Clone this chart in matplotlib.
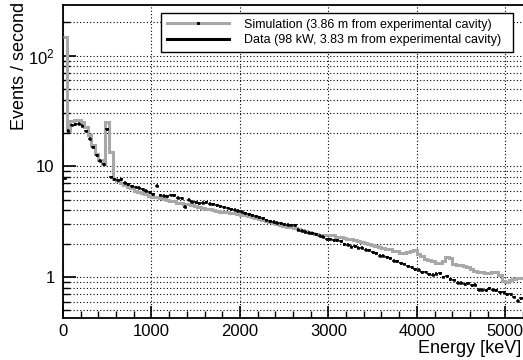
import numpy as np
import matplotlib
matplotlib.use("Agg")
import matplotlib.pyplot as plt
from matplotlib.lines import Line2D
from matplotlib.ticker import FixedLocator, FixedFormatter, MultipleLocator, NullFormatter

plt.rcParams['font.family'] = ['Liberation Sans', 'DejaVu Sans']
plt.rcParams['mathtext.fontset'] = 'custom'
plt.rcParams['mathtext.rm'] = 'Liberation Sans'
plt.rcParams['mathtext.it'] = 'Liberation Sans'

# ---------------- data (40 keV bins from 0 to 5200 keV) ----------------
bin_width = 40  # keV

data_rate = [
    7.8, 21, 23.6, 24, 24.3, 23.2, 20.8, 17.8, 14.8, 12.6,
    11.2, 10.4, 21.6, 8.0, 7.6, 7.5, 7.6, 7.1, 6.9, 6.6,
    6.5, 6.4, 6.2, 6.0, 5.8, 5.6, 6.7, 5.5, 5.4, 5.35,
    5.5, 5.45, 5.2, 5.15, 4.3, 5.0, 4.8, 4.75, 4.65, 4.7,
    4.75, 4.6, 4.55, 4.45, 4.35, 4.25, 4.2, 4.1, 4.05, 3.95,
    3.9, 3.75, 3.7, 3.62, 3.55, 3.45, 3.38, 3.27, 3.2, 3.15,
    3.08, 3.05, 3.0, 2.97, 2.95, 2.92, 2.68, 2.62, 2.56, 2.52,
    2.48, 2.42, 2.36, 2.3, 2.2, 2.18, 2.14, 2.15, 2.1, 1.98,
    1.95, 1.88, 1.90, 1.83, 1.84, 1.76, 1.75, 1.67, 1.64, 1.56,
    1.55, 1.50, 1.47, 1.40, 1.39, 1.33, 1.31, 1.25, 1.22, 1.17,
    1.16, 1.10, 1.11, 1.06, 1.05, 1.07, 1.08, 1.00, 1.01, 0.95,
    0.94, 0.89, 0.89, 0.86, 0.88, 0.84, 0.85, 0.77, 0.77, 0.76,
    0.79, 0.77, 0.76, 0.73, 0.73, 0.70, 0.70, 0.66, 0.61, 0.64,
]

sim_rate = [
    148, 21, 25.5, 26.2, 26, 25, 22.5, 19, 15.5, 13,
    11.3, 10.4, 25, 13.5, 7.6, 7.3, 7.1, 6.8, 6.5, 6.3,
    6.0, 5.9, 5.75, 5.6, 5.4, 5.3, 5.25, 5.2, 5.05, 5.0,
    4.9, 4.85, 4.7, 4.65, 4.6, 4.55, 4.45, 4.35, 4.3, 4.2,
    4.15, 4.1, 4.05, 3.95, 3.9, 3.85, 3.85, 3.8, 3.75, 3.7,
    3.65, 3.6, 3.55, 3.48, 3.42, 3.35, 3.28, 3.2, 3.12, 3.05,
    3.0, 2.95, 2.9, 2.85, 2.82, 2.78, 2.7, 2.65, 2.6, 2.55,
    2.5, 2.45, 2.4, 2.4, 2.38, 2.38, 2.4, 2.32, 2.28, 2.25,
    2.22, 2.18, 2.15, 2.1, 2.06, 2.02, 2.0, 1.95, 1.9, 1.88,
    1.84, 1.8, 1.78, 1.72, 1.7, 1.66, 1.65, 1.68, 1.7, 1.75,
    1.6, 1.55, 1.45, 1.42, 1.38, 1.35, 1.33, 1.4, 1.5, 1.48,
    1.32, 1.28, 1.27, 1.25, 1.24, 1.18, 1.14, 1.12, 1.1, 1.08,
    1.09, 1.12, 1.12, 1.05, 0.92, 0.9, 0.94, 0.96, 0.97, 0.98,
]

data_rel_err = 0.03

sim_label = "Simulation (3.86 m from experimental cavity)"
data_label = "Data (98 kW, 3.83 m from experimental cavity)"

# ---------------- figure ----------------
W, H = 523, 360
fig = plt.figure(figsize=(W / 100, H / 100), dpi=100)
ax = fig.add_axes([63 / W, 1 - 318 / H, 460 / W, 313 / H])

sim = np.array(sim_rate)
dat = np.array(data_rate)
sim_edges = np.arange(len(sim) + 1) * bin_width
dat_centers = np.arange(len(dat)) * bin_width + bin_width / 2

gray = '#a8a8a8'
ax.stairs(sim, sim_edges, baseline=None, color=gray, lw=2.2, zorder=3)
ax.errorbar(dat_centers, dat, xerr=bin_width / 2, yerr=dat * data_rel_err,
            fmt='s', ms=1.6, mew=0.4, color='black', elinewidth=1.1, capsize=0,
            zorder=4)

ax.set_yscale('log')
ax.set_xlim(0, 5200)
ax.set_ylim(0.426, 286)

# ticks
ax.xaxis.set_major_locator(MultipleLocator(1000))
ax.xaxis.set_minor_locator(MultipleLocator(200))
ax.yaxis.set_major_locator(FixedLocator([1, 10, 100]))
ax.yaxis.set_major_formatter(FixedFormatter(['1', '10', r'$10^{2}$']))
minor_y = [m * 10.0 ** d for d in (-1, 0, 1, 2) for m in range(2, 10)]
ax.yaxis.set_minor_locator(FixedLocator(minor_y))
ax.yaxis.set_minor_formatter(NullFormatter())

ax.tick_params(axis='both', which='major', direction='in', labelsize=12,
               length=9, width=1.2)
ax.tick_params(axis='both', which='minor', direction='in', length=5, width=1.0)
ax.tick_params(axis='x', which='major', pad=4)
ax.tick_params(axis='y', which='major', pad=6)
ax.tick_params(right=False, top=False, which='both')

# grid
grid_kw = dict(color='black', linestyle=(0, (1, 2)), linewidth=0.8)
ax.grid(True, axis='x', which='major', **grid_kw)
ax.grid(True, axis='y', which='both', **grid_kw)
ax.set_axisbelow(True)

for s in ['left', 'bottom', 'top']:
    ax.spines[s].set_linewidth(1.3)
ax.spines['right'].set_visible(False)

# labels
fig.text(521 / W, 1 - 353 / H, 'Energy [keV]', ha='right', va='baseline', fontsize=13)
fig.text(19 / W, 1 - 2 / H, 'Events / second', rotation=90, ha='center', va='top',
         fontsize=13)

# legend
handles = [
    Line2D([], [], color=gray, lw=2.2, marker='s', ms=1.2, mfc='black', mec='black'),
    Line2D([], [], color='black', lw=2.2),
]
x0, x1 = 161 / W, 513 / W
y_top = 1 - 13 / H
leg = fig.legend(handles, [sim_label, data_label], loc='upper left',
                 bbox_to_anchor=(x0, y_top - 0.2, x1 - x0, 0.2), mode='expand',
                 fontsize=9, handlelength=5.0, handletextpad=1.2, borderpad=0.45,
                 labelspacing=0.3, borderaxespad=0, fancybox=False, framealpha=1,
                 edgecolor='black')
leg.get_frame().set_linewidth(1.0)

fig.savefig('out.png', dpi=100)
